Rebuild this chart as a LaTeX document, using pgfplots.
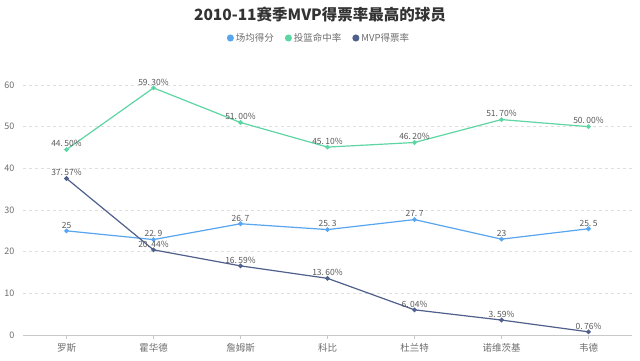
\documentclass[border=0pt]{standalone}
\usepackage{fontspec}
\usepackage{pgfplots}
\pgfplotsset{compat=1.18}
\setmainfont{Noto Sans CJK SC}
\definecolor{cA}{RGB}{88,165,240}
\definecolor{cB}{RGB}{94,214,164}
\definecolor{cC}{RGB}{80,96,140}
\definecolor{txt}{RGB}{110,110,110}
\definecolor{lbl}{RGB}{90,90,90}
\definecolor{gridc}{RGB}{222,222,222}
\definecolor{axisc}{RGB}{200,200,200}
\newcommand{\fs}[1]{\fontsize{#1bp}{#1bp}\selectfont}
\begin{document}
\begin{tikzpicture}[x=1bp,y=1bp]
\path[use as bounding box,fill=white] (0,0) rectangle (640,360);
\node[font=\fs{15.5}\bfseries,text={rgb,255:red,51;green,51;blue,51}] at (320,345) {2010-11赛季MVP得票率最高的球员};
\begin{axis}[at={(23bp,25bp)}, anchor=south west, scale only axis,
  width=609bp, height=250bp,
  xmin=-0.5, xmax=6.5, ymin=0, ymax=60,
  ytick={0,10,...,60}, xtick={0,...,6},
  xticklabels={罗斯,霍华德,詹姆斯,科比,杜兰特,诺维茨基,韦德},
  axis x line=bottom, axis y line=left,
  x axis line style={-, draw=axisc, line width=0.8bp},
  y axis line style={draw=none},
  ytick style={draw=none},
  xtick style={draw=axisc, line width=0.8bp},
  tick align=outside, major tick length=4bp,
  ymajorgrids, major grid style={dash pattern=on 3bp off 3bp, draw=gridc, line width=0.8bp},
  yticklabel style={font=\fs{9}, text=txt, xshift=-1bp},
  xticklabel style={font=\fs{9.5}, text=txt, yshift=-1bp},
  tick label style={/pgf/number format/assume math mode=true},
  every axis plot/.append style={line width=1.2bp, mark=*, mark size=1.7bp},
  nodes near coords, point meta=explicit symbolic,
  every node near coord/.append style={font=\fs{8.5}, text=lbl, anchor=south, inner sep=1bp, yshift=1bp},
  legend columns=3,
  legend style={at={(0.486,1.188)}, anchor=center, draw=none, fill=none, font=\fs{9.5}, text=txt,
    /tikz/every even column/.append style={column sep=9bp}},
  legend image code/.code={\fill[#1] (0bp,0bp) circle (2.9bp);},
  clip=false,
]
\addplot[color=cA, mark options={fill=cA}] coordinates {
 (0,25) [25] (1,22.9) [22.\,9] (2,26.7) [26.\,7] (3,25.3) [25.\,3] (4,27.7) [27.\,7] (5,23) [23] (6,25.5) [25.\,5]};
\addlegendentry{场均得分}
\addplot[color=cB, mark options={fill=cB}] coordinates {
 (0,44.5) [44.\,50\%] (1,59.3) [59.\,30\%] (2,51.0) [51.\,00\%] (3,45.1) [45.\,10\%] (4,46.2) [46.\,20\%] (5,51.7) [51.\,70\%] (6,50.0) [50.\,00\%]};
\addlegendentry{投篮命中率}
\addplot[color=cC, mark options={fill=cC}] coordinates {
 (0,37.57) [37.\,57\%] (1,20.44) [20.\,44\%] (2,16.59) [16.\,59\%] (3,13.60) [13.\,60\%] (4,6.04) [6.\,04\%] (5,3.59) [3.\,59\%] (6,0.76) [0.\,76\%]};
\addlegendentry{MVP得票率}
\end{axis}
\end{tikzpicture}
\end{document}
